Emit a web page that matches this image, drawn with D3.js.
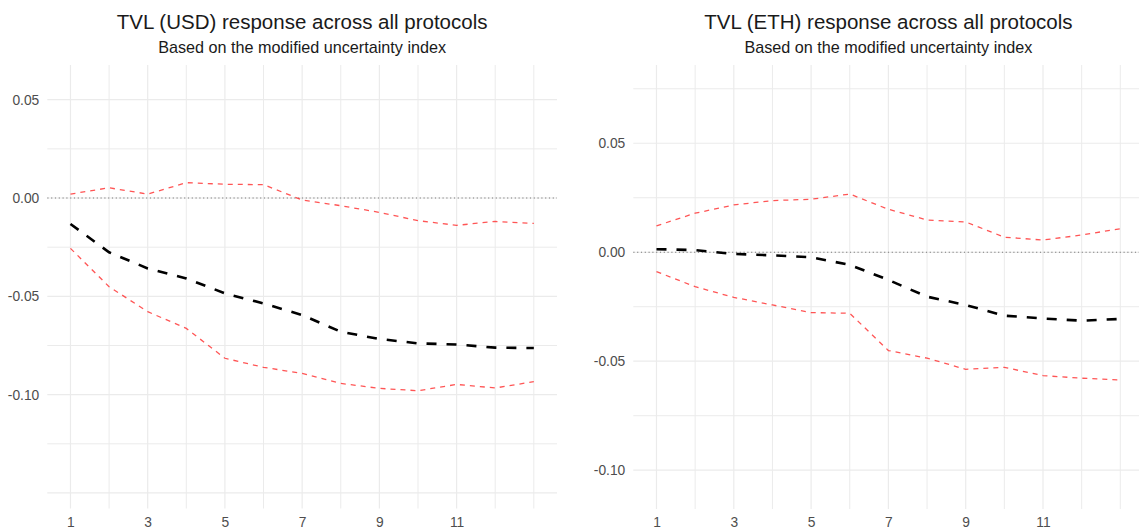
<!DOCTYPE html>
<html>
<head>
<meta charset="utf-8">
<script src="https://cdn.jsdelivr.net/npm/d3@7"></script>
<style>
  html, body { margin: 0; padding: 0; background: #ffffff; }
  svg { display: block; }
  text { font-family: "Liberation Sans", Arial, Helvetica, sans-serif; }
</style>
</head>
<body>
<svg id="chart" width="1139" height="531"></svg>
<script>
// ---- data ----
const horizons = [1, 2, 3, 4, 5, 6, 7, 8, 9, 10, 11, 12, 13];
const xTickLabels = [1, 3, 5, 7, 9, 11];

const usdTitle = "TVL (USD) response across all protocols";
const ethTitle = "TVL (ETH) response across all protocols";
const subtitleText = "Based on the modified uncertainty index";

const usdResponse = [-0.0132, -0.0276, -0.0358, -0.0409, -0.0485, -0.0536, -0.0595, -0.0680, -0.0717, -0.0739, -0.0745, -0.0761, -0.0763];
const usdUpper    = [0.0020, 0.0052, 0.0020, 0.0078, 0.0070, 0.0068, -0.0010, -0.0039, -0.0073, -0.0115, -0.0139, -0.0119, -0.0129];
const usdLower    = [-0.0256, -0.0451, -0.0578, -0.0663, -0.0815, -0.0861, -0.0892, -0.0943, -0.0968, -0.0980, -0.0948, -0.0966, -0.0934];
const usdYTicks   = [0.05, 0.00, -0.05, -0.10];

const ethResponse = [0.0014, 0.0010, -0.0008, -0.0014, -0.0023, -0.0058, -0.0127, -0.0204, -0.0242, -0.0291, -0.0304, -0.0314, -0.0306];
const ethUpper    = [0.0121, 0.0179, 0.0217, 0.0237, 0.0243, 0.0267, 0.0197, 0.0148, 0.0139, 0.0069, 0.0056, 0.0079, 0.0108];
const ethLower    = [-0.0089, -0.0158, -0.0207, -0.0242, -0.0277, -0.0280, -0.0451, -0.0486, -0.0537, -0.0528, -0.0566, -0.0578, -0.0586];
const ethYTicks   = [0.05, 0.00, -0.05, -0.10];

// ---- drawing ----
const svg = d3.select("#chart");
const FONT = "'Liberation Sans', Arial, sans-serif";

function drawPanel(opts) {
  const g = svg.append("g");
  const x = d3.scaleLinear().domain([0.4, 13.6]).range([opts.left, opts.right]);
  const y = d3.scaleLinear().domain(opts.yDomain).range([opts.bottom, opts.top]);

  // grid: horizontal lines every 0.025
  const hGrid = d3.range(-0.15, 0.1001, 0.025).map(v => +v.toFixed(3))
    .filter(v => v >= opts.yDomain[0] && v <= opts.yDomain[1]);
  g.append("g").selectAll("line").data(hGrid).join("line")
    .attr("x1", opts.left).attr("x2", opts.right)
    .attr("y1", d => y(d)).attr("y2", d => y(d))
    .attr("stroke", "#ebebeb")
    .attr("stroke-width", d => (Math.abs(Math.round(d * 1000)) % 50 === 0) ? 1.2 : 1.0);
  // vertical lines at each horizon
  g.append("g").selectAll("line").data(horizons).join("line")
    .attr("x1", d => x(d)).attr("x2", d => x(d))
    .attr("y1", opts.top).attr("y2", opts.bottom)
    .attr("stroke", "#ebebeb")
    .attr("stroke-width", d => (d % 2 === 1 && d < 13) ? 1.2 : 1.0);

  // y tick labels
  const yAxis = d3.axisLeft(y).tickValues(opts.yTicks).tickFormat(d3.format(".2f")).tickSize(0).tickPadding(8);
  const ya = g.append("g").attr("transform", `translate(${opts.left},0)`).call(yAxis);
  ya.select(".domain").remove();
  ya.selectAll("text").attr("fill", "#4d4d4d").attr("font-size", 13.8)
    .attr("font-family", FONT)
    .text(d => d3.format(".2f")(d).replace("\u2212", "-"));

  // x tick labels
  const xAxis = d3.axisBottom(x).tickValues(xTickLabels).tickFormat(d3.format("d")).tickSize(0).tickPadding(0);
  const xa = g.append("g").attr("transform", `translate(0,${opts.bottom})`).call(xAxis);
  xa.select(".domain").remove();
  xa.selectAll("text").attr("fill", "#4d4d4d").attr("font-size", 13.8)
    .attr("font-family", FONT)
    .attr("dy", null).attr("y", 18);

  // zero reference line
  g.append("line")
    .attr("x1", opts.left).attr("x2", opts.right)
    .attr("y1", y(0)).attr("y2", y(0))
    .attr("stroke", "#7a7a7a").attr("stroke-width", 1.2)
    .attr("stroke-dasharray", "1.2,2.6");

  const line = d3.line().x((d, i) => x(horizons[i])).y(d => y(d));

  [opts.upper, opts.lower].forEach(series => {
    g.append("path").datum(series)
      .attr("d", line)
      .attr("fill", "none")
      .attr("stroke", "#ff2a2a").attr("stroke-opacity", 0.8)
      .attr("stroke-width", 1.3)
      .attr("stroke-dasharray", "5,5");
  });

  g.append("path").datum(opts.response)
    .attr("d", line)
    .attr("fill", "none")
    .attr("stroke", "#000000")
    .attr("stroke-width", 2.6)
    .attr("stroke-dasharray", "10,10");

  // titles
  const cx = (opts.left + opts.right) / 2;
  svg.append("text").attr("x", cx).attr("y", 29)
    .attr("text-anchor", "middle").attr("font-size", 20.5).attr("fill", "#1a1a1a")
    .attr("font-family", FONT)
    .text(opts.title);
  svg.append("text").attr("x", cx).attr("y", 53.3)
    .attr("text-anchor", "middle").attr("font-size", 16.2).attr("fill", "#1a1a1a")
    .attr("font-family", FONT)
    .text(subtitleText);
}

drawPanel({
  left: 47.3, right: 557, top: 65, bottom: 508.5,
  yDomain: [-0.1579, 0.06765],
  yTicks: usdYTicks,
  response: usdResponse, upper: usdUpper, lower: usdLower,
  title: usdTitle
});

drawPanel({
  left: 633.3, right: 1143.5, top: 65, bottom: 509,
  yDomain: [-0.1178, 0.0859],
  yTicks: ethYTicks,
  response: ethResponse, upper: ethUpper, lower: ethLower,
  title: ethTitle
});
</script>
</body>
</html>
